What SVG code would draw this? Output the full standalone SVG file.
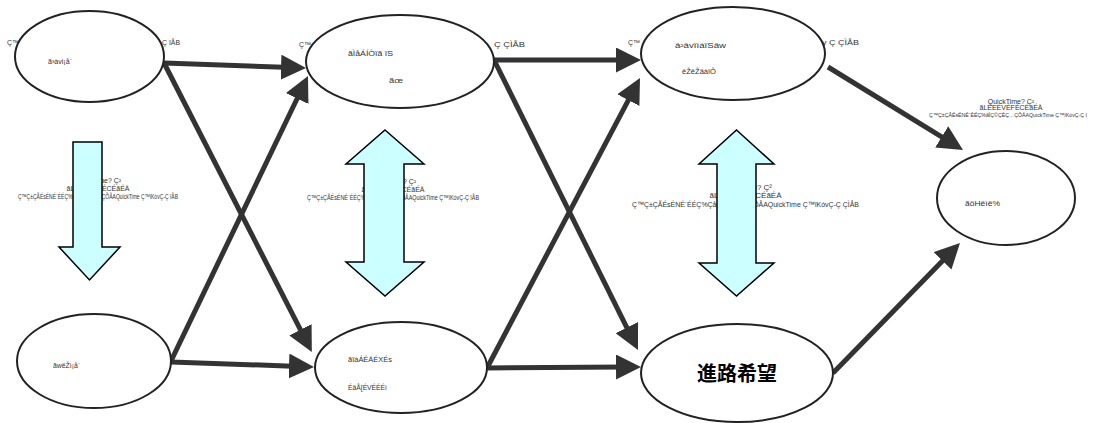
<svg xmlns="http://www.w3.org/2000/svg" width="1097" height="423" viewBox="0 0 1097 423">
<style>
.node{fill:#fff;stroke:#222;stroke-width:2}
.t{font-family:"Liberation Sans",Arial,sans-serif;font-size:7px;fill:#333}
.ts{font-family:"Liberation Sans",Arial,sans-serif;font-size:6px;fill:#333}
.tb{font-family:"Liberation Sans",Arial,sans-serif;font-size:8px;fill:#333}
.blk{fill:#CCFFFF;stroke:#000;stroke-width:1.5}
.con{stroke:#333;stroke-width:5;fill:none}
</style>
<defs>
<marker id="ah" viewBox="0 0 10 10" refX="4" refY="5" markerWidth="5" markerHeight="5" orient="auto" markerUnits="strokeWidth">
<path d="M0,0 L10,5 L0,10 Z" fill="#333"/>
</marker>
</defs>
<rect width="1097" height="423" fill="#fff"/>

<g id="connectors">
<line class="con" x1="164" y1="63" x2="291" y2="67.5" marker-end="url(#ah)"/>
<line class="con" x1="164" y1="63" x2="305" y2="338.6" marker-end="url(#ah)"/>
<line class="con" x1="171" y1="361" x2="301.5" y2="89.5" marker-end="url(#ah)"/>
<line class="con" x1="171" y1="362" x2="299" y2="366.4" marker-end="url(#ah)"/>
<line class="con" x1="494" y1="60" x2="626" y2="60" marker-end="url(#ah)"/>
<line class="con" x1="494" y1="60" x2="631.3" y2="336.6" marker-end="url(#ah)"/>
<line class="con" x1="487" y1="368" x2="633" y2="91.3" marker-end="url(#ah)"/>
<line class="con" x1="487" y1="368" x2="626" y2="367" marker-end="url(#ah)"/>
<line class="con" x1="828" y1="67" x2="950.2" y2="142.1" marker-end="url(#ah)"/>
<line class="con" x1="833" y1="373" x2="949.5" y2="253.7" marker-end="url(#ah)"/>
</g>

<g id="n1">
<text class="t" x="7" y="45">Ç™</text>
<text class="t" x="162" y="45" textLength="18" lengthAdjust="spacingAndGlyphs">Ç ïÅB</text>
<ellipse class="node" cx="89.5" cy="56.5" rx="74.5" ry="45.5"/>
<text class="t" x="48" y="64" textLength="24" lengthAdjust="spacingAndGlyphs">ã³àvi¡å`</text>
</g>

<g id="n2">
<text class="t" x="299" y="47">Ç™</text>
<text class="t" x="494" y="47" textLength="31" lengthAdjust="spacingAndGlyphs">Ç ÇÌÅB</text>
<ellipse class="node" cx="400" cy="61.5" rx="94" ry="46.5"/>
<text class="t" x="348" y="56" textLength="45" lengthAdjust="spacingAndGlyphs">ãÌåÁÍÒïã ïS</text>
<text class="t" x="389" y="83" textLength="14" lengthAdjust="spacingAndGlyphs">ãœ</text>
</g>

<g id="n3">
<text class="t" x="628" y="45">Ç™</text>
<text class="t" x="822" y="45" textLength="37" lengthAdjust="spacingAndGlyphs">y Ç ÇÌÅB</text>
<ellipse class="node" cx="733" cy="53.5" rx="92" ry="46.5"/>
<text class="t" x="675" y="48" textLength="51" lengthAdjust="spacingAndGlyphs">â²âvïìáïSâw</text>
<text class="t" x="682" y="74" textLength="34" lengthAdjust="spacingAndGlyphs">êŽêŽäàïÔ</text>
</g>

<g id="n4">
<text class="t" x="1011" y="104" text-anchor="middle">QuickTime? Ç²</text>
<text class="t" x="1011" y="110" text-anchor="middle">ãLÉEÉVÉFÉCÉãÉÄ</text>
<text class="ts" x="929" y="117" textLength="158" lengthAdjust="spacingAndGlyphs">Ç™Ç±ÇÃÉsÉNÉ`ÉÉÇ%ãÌÇ©ÇÈÇ…ÇÕÅAQuickTime Ç™ïKóvÇ-Ç I</text>
<ellipse class="node" cx="1006" cy="198" rx="69" ry="47"/>
<text class="t" x="965" y="206" textLength="35" lengthAdjust="spacingAndGlyphs">ãöHëìë%</text>
</g>

<g id="n5">
<ellipse class="node" cx="94" cy="361" rx="77" ry="47"/>
<text class="t" x="53" y="368" textLength="27" lengthAdjust="spacingAndGlyphs">ãwëŽì¡å`</text>
</g>

<g id="n6">
<ellipse class="node" cx="401" cy="367.5" rx="86" ry="45.5"/>
<text class="t" x="348" y="362" textLength="44" lengthAdjust="spacingAndGlyphs">ãïàÁÉÄÉXÉs</text>
<text class="t" x="348" y="390" textLength="39" lengthAdjust="spacingAndGlyphs">ÉäÅ[ÉVÉÉÉì</text>
</g>

<g id="n7">
<ellipse class="node" cx="737" cy="373" rx="96" ry="49"/>
<text x="737" y="381" text-anchor="middle" font-family="'Noto Sans CJK JP','Noto Sans CJK SC',sans-serif" font-size="20" font-weight="bold" fill="#000">進路希望</text>
</g>

<g id="b1">
<text class="t" x="98" y="183" text-anchor="middle">QuickTime? Ç²</text>
<text class="t" x="98" y="191" text-anchor="middle">ãLÉEÉVÉFÉCÉãÉÄ</text>
<text class="t" x="18" y="199" textLength="160" lengthAdjust="spacingAndGlyphs">Ç™Ç±ÇÃÉsÉNÉ`ÉÉÇ%ÇåÇ©ÇÈÇ…ÇÕÅAQuickTime Ç™ïKóvÇ-Ç ïÅB</text>
<path class="blk" d="M73,142 L102,142 L102,247 L120,247 L89.5,280 L59,247 L73,247 Z"/>
</g>

<g id="b2">
<text class="t" x="393" y="184" text-anchor="middle">QuickTime? Ç²</text>
<text class="t" x="393" y="192" text-anchor="middle">ãLÉEÉVÉFÉCÉãÉÄ</text>
<text class="t" x="307" y="200" textLength="172" lengthAdjust="spacingAndGlyphs">Ç™Ç±ÇÃÉsÉNÉ`ÉÉÇ%ÇåÇ©ÇÈÇ…ÇÕÅAQuickTime Ç™ïKóvÇ-Ç ïÅB</text>
<path class="blk" d="M385,130 L424,164 L404,164 L404,262 L424,262 L385,296 L346,262 L364,262 L364,164 L346,164 Z"/>
</g>

<g id="b3">
<text class="tb" x="745.5" y="190" text-anchor="middle">QuickTime? Ç²</text>
<text class="tb" x="745.5" y="198" text-anchor="middle">ãLÉEÉVÉFÉCÉãÉÄ</text>
<text class="tb" x="632" y="207" textLength="227" lengthAdjust="spacingAndGlyphs">Ç™Ç±ÇÃÉsÉNÉ`ÉÉÇ%ÇåÇ©ÇÈÇ…ÇÕÅAQuickTime Ç™ïKóvÇ-Ç ÇÌÅB</text>
<path class="blk" d="M736.5,130 L774,164 L756,164 L756,263 L774,263 L736.5,296 L699,263 L717,263 L717,164 L699,164 Z"/>
</g>
</svg>
